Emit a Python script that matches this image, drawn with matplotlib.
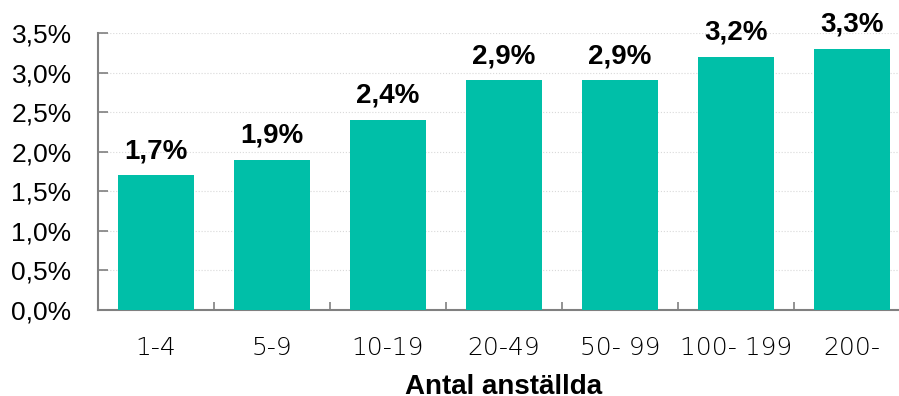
import matplotlib.pyplot as plt
import numpy as np

categories = ['1-4', '5-9', '10-19', '20-49', '50- 99', '100- 199', '200-']
values = [1.7, 1.9, 2.4, 2.9, 2.9, 3.2, 3.3]
yticks = [0.0, 0.5, 1.0, 1.5, 2.0, 2.5, 3.0, 3.5]

plt.rcParams['font.family'] = ['Liberation Sans', 'DejaVu Sans']

fig = plt.figure(figsize=(8.99, 3.96), dpi=100)
ax = fig.add_axes([98 / 899, 86 / 396, 812 / 899, 277 / 396])

x = np.arange(len(categories))
ax.bar(x, values, width=0.66, color='#00BFA8', zorder=3)
for xi, v in zip(x, values):
    ax.text(xi, v + 0.22, '{:.1f}%'.format(v).replace('.', ','),
            ha='center', va='baseline', fontsize=20, fontweight='bold')

ax.set_xlim(-0.5, len(categories) - 0.5)
ax.set_ylim(0, 3.5)
ax.set_yticks(yticks)
ax.set_yticklabels(['{:.1f}%'.format(t).replace('.', ',') for t in yticks], fontsize=19)
ax.yaxis.grid(True, color='#d9d9d9', linestyle=':', linewidth=0.8, zorder=0)

ax.set_xticks(x)
ax.set_xticklabels(categories, fontsize=18, fontfamily='DejaVu Sans', fontweight='light')
ax.tick_params(axis='x', length=0, pad=19)
ax.set_xticks(np.arange(0.5, len(categories) - 0.5), minor=True)
ax.tick_params(axis='x', which='minor', direction='in', length=6, color='#808080', width=1.2)
ax.tick_params(axis='y', direction='in', length=7, color='#808080', width=1.2, pad=19)

for side in ['top', 'right']:
    ax.spines[side].set_visible(False)
for side in ['left', 'bottom']:
    ax.spines[side].set_color('#808080')
    ax.spines[side].set_linewidth(1.5)

ax.set_xlabel('Antal anställda', fontsize=20, fontweight='bold', labelpad=10)

plt.savefig('out.png', dpi=100)
